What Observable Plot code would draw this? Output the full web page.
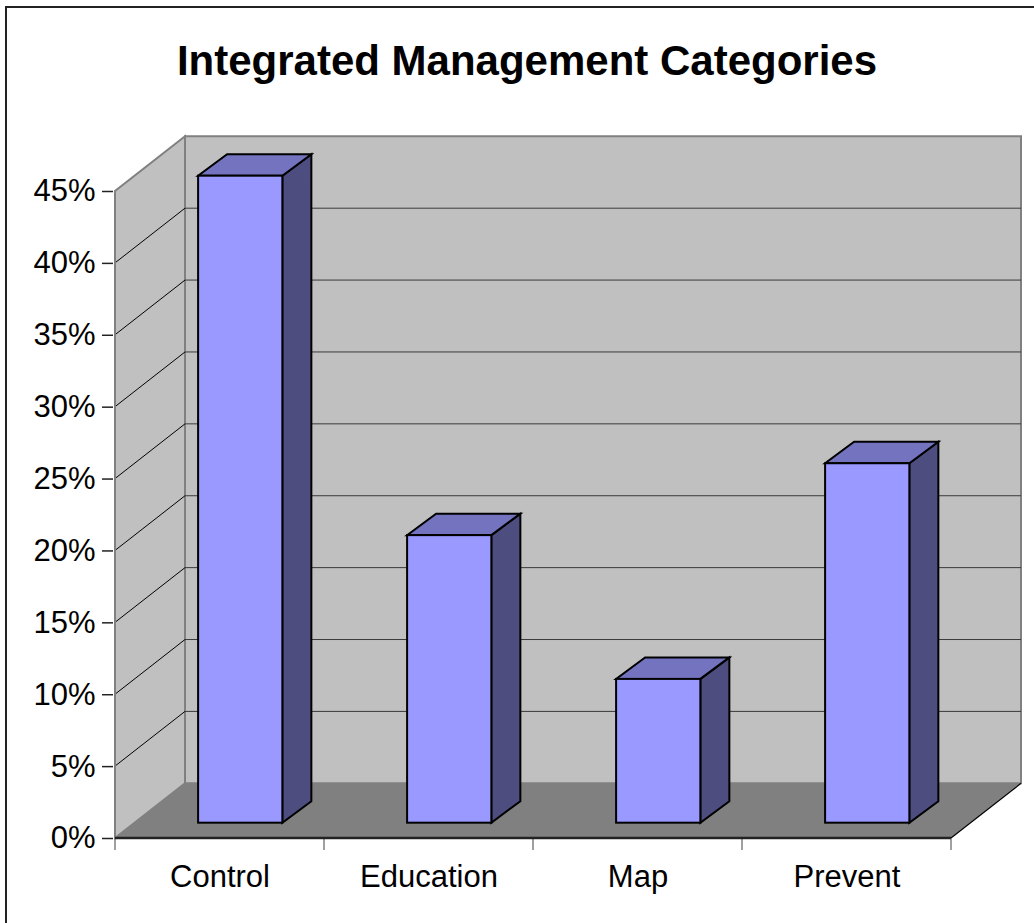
<!DOCTYPE html>
<html><head><meta charset="utf-8">
<script src="https://cdn.jsdelivr.net/npm/d3@7"></script>
<script src="https://cdn.jsdelivr.net/npm/@observablehq/plot@0.6"></script>
<style>
html,body{margin:0;padding:0;overflow:hidden;background:#fff;width:1034px;height:923px;}
#frame{position:absolute;left:5px;top:6px;width:1100px;height:1000px;border:2px solid #222;box-sizing:border-box;}
#title{position:absolute;left:527px;top:40px;transform:translateX(-50%);white-space:nowrap;font:bold 42px/42px "Liberation Sans",Arial,sans-serif;color:#000;}
#chart{position:absolute;left:0;top:110px;}
</style></head><body>
<div id="frame"></div>
<div id="title">Integrated Management Categories</div>
<div id="chart"></div>
<script>
const categories = ["Control", "Education", "Map", "Prevent"];
const values = [0.45, 0.20, 0.10, 0.25];
const yTicks = [0, 0.05, 0.10, 0.15, 0.20, 0.25, 0.30, 0.35, 0.40, 0.45];

const data = categories.map((c, i) => ({category: c, value: values[i]}));

// 3D projection constants (pixels)
const WALL = {dx: 70, dy: -54.7};     // depth of the floor / walls
const FRONT = 0.28;                   // bar front plane as fraction of depth
const BAR = {dx: 29, dy: -21.5};      // depth of each bar
const INSET_L = 63.5, INSET_R = 61.25;

const pathOf = pts => "M" + pts.map(p => p.join(",")).join("L") + "Z";
const bandwidth = x => x.bandwidth ? x.bandwidth() : (x(categories[1]) - x(categories[0]));

function walls(index, {x, y}) {
  const bw = bandwidth(x);
  const x0 = x(categories[0]), x1 = x(categories[categories.length - 1]) + bw;
  const y0 = y(0), yT = y(yTicks[yTicks.length - 1]);
  const g = d3.create("svg:g");
  g.append("path")
    .attr("d", pathOf([[x0 + WALL.dx, y0 + WALL.dy], [x1 + WALL.dx, y0 + WALL.dy], [x1 + WALL.dx, yT + WALL.dy], [x0 + WALL.dx, yT + WALL.dy]]))
    .attr("fill", "#c0c0c0").attr("stroke", "#808080").attr("stroke-width", 2);
  g.append("path")
    .attr("d", pathOf([[x0, y0], [x0, yT], [x0 + WALL.dx, yT + WALL.dy], [x0 + WALL.dx, y0 + WALL.dy]]))
    .attr("fill", "#c0c0c0").attr("stroke", "#808080").attr("stroke-width", 2);
  g.append("path")
    .attr("d", pathOf([[x0, y0], [x1, y0], [x1 + WALL.dx, y0 + WALL.dy], [x0 + WALL.dx, y0 + WALL.dy]]))
    .attr("fill", "#808080");
  g.append("line")
    .attr("x1", x1).attr("y1", y0).attr("x2", x1 + WALL.dx).attr("y2", y0 + WALL.dy)
    .attr("stroke", "#000").attr("stroke-width", 1.2);
  for (const t of yTicks) {
    if (t === 0 || t === yTicks[yTicks.length - 1]) continue;
    g.append("line")
      .attr("x1", x0 + WALL.dx).attr("x2", x1 + WALL.dx)
      .attr("y1", y(t) + WALL.dy).attr("y2", y(t) + WALL.dy)
      .attr("stroke", "#3a3a3a").attr("stroke-width", 1);
    g.append("line")
      .attr("x1", x0).attr("y1", y(t))
      .attr("x2", x0 + WALL.dx).attr("y2", y(t) + WALL.dy)
      .attr("stroke", "#000").attr("stroke-width", 1);
  }
  return g.node();
}

function barSides(index, {x, y}) {
  const bw = bandwidth(x);
  const g = d3.create("svg:g").attr("stroke", "#000").attr("stroke-width", 2).attr("stroke-linejoin", "miter");
  for (const d of data) {
    const left = x(d.category) + INSET_L + WALL.dx * FRONT;
    const right = x(d.category) + bw - INSET_R + WALL.dx * FRONT;
    const top = y(d.value) + WALL.dy * FRONT;
    const bottom = y(0) + WALL.dy * FRONT;
    g.append("path")
      .attr("d", pathOf([[right, top], [right + BAR.dx, top + BAR.dy], [right + BAR.dx, bottom + BAR.dy], [right, bottom]]))
      .attr("fill", "#4d4d80");
    g.append("path")
      .attr("d", pathOf([[left, top], [right, top], [right + BAR.dx, top + BAR.dy], [left + BAR.dx, top + BAR.dy]]))
      .attr("fill", "#7373bf");
  }
  return g.node();
}

function axesLines(index, {x, y}) {
  const bw = bandwidth(x);
  const x0 = x(categories[0]), x1 = x(categories[categories.length - 1]) + bw;
  const y0 = y(0), yT = y(yTicks[yTicks.length - 1]);
  const g = d3.create("svg:g");
  g.append("line").attr("x1", x0).attr("x2", x0).attr("y1", y0).attr("y2", yT)
    .attr("stroke", "#808080").attr("stroke-width", 2);
  const bounds = categories.map(c => x(c)).concat([x1]);
  for (const b of bounds) {
    g.append("line").attr("x1", b).attr("x2", b).attr("y1", y0).attr("y2", y0 + 12)
      .attr("stroke", "#808080").attr("stroke-width", 1.5);
  }
  g.append("line").attr("x1", x0).attr("x2", x1).attr("y1", y0).attr("y2", y0)
    .attr("stroke", "#222").attr("stroke-width", 2.5);
  return g.node();
}

const chart = Plot.plot({
  width: 1034,
  height: 813,
  marginLeft: 113,
  marginRight: 82,
  marginTop: 81,
  marginBottom: 85,
  style: {fontFamily: "'Liberation Sans', Arial, sans-serif", fontSize: "31px", color: "#000", background: "transparent"},
  x: {domain: categories, padding: 0, label: null},
  y: {domain: [0, 0.45], label: null},
  marks: [
    walls,
    barSides,
    Plot.barY(data, {
      x: "category", y: "value",
      fill: "#9999ff", stroke: "#000", strokeWidth: 2,
      insetLeft: INSET_L, insetRight: INSET_R,
      dx: WALL.dx * FRONT, dy: WALL.dy * FRONT
    }),
    axesLines,
    Plot.axisY({ticks: yTicks, tickFormat: d3.format(".0%"), tickSize: 11, tickPadding: 7, stroke: "#222", strokeWidth: 1.5, fontSize: 31}),
    Plot.axisX({tickSize: 0, tickPadding: 26, fontSize: 31})
  ]
});
document.getElementById("chart").appendChild(chart);
</script></body></html>
